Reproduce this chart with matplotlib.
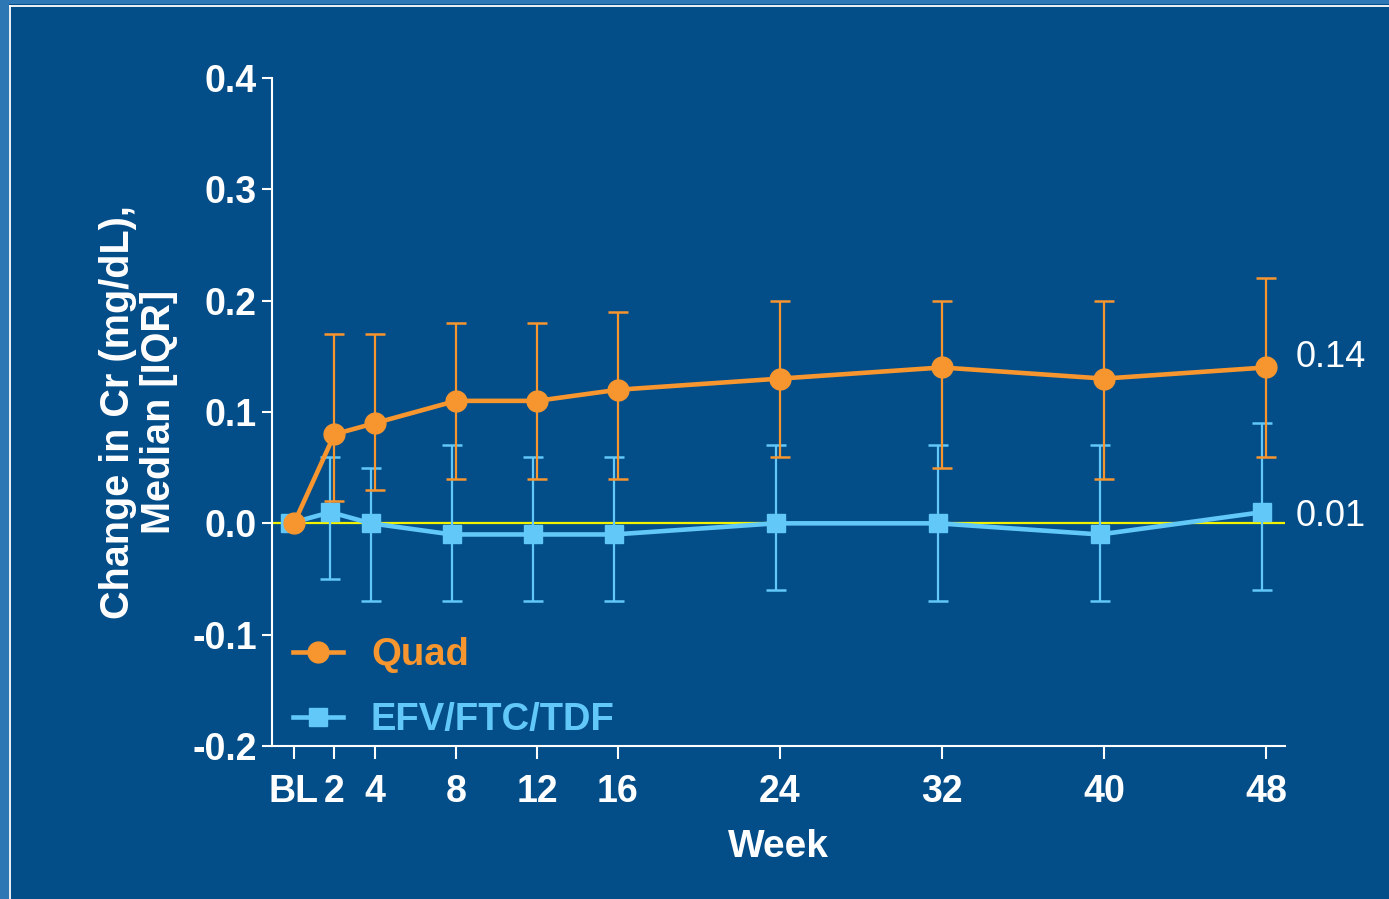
import matplotlib
matplotlib.use("Agg")
import matplotlib.pyplot as plt
from matplotlib.lines import Line2D
from matplotlib.patches import Rectangle
import numpy as np

# ---- data ----
weeks = [0, 2, 4, 8, 12, 16, 24, 32, 40, 48]
week_labels = ["BL", "2", "4", "8", "12", "16", "24", "32", "40", "48"]

quad_med = [0.00, 0.08, 0.09, 0.11, 0.11, 0.12, 0.13, 0.14, 0.13, 0.14]
quad_q1  = [0.00, 0.02, 0.03, 0.04, 0.04, 0.04, 0.06, 0.05, 0.04, 0.06]
quad_q3  = [0.00, 0.17, 0.17, 0.18, 0.18, 0.19, 0.20, 0.20, 0.20, 0.22]

efv_med = [0.00, 0.01, 0.00, -0.01, -0.01, -0.01, 0.00, 0.00, -0.01, 0.01]
efv_q1  = [0.00, -0.05, -0.07, -0.07, -0.07, -0.07, -0.06, -0.07, -0.07, -0.06]
efv_q3  = [0.00, 0.06, 0.05, 0.07, 0.06, 0.06, 0.07, 0.07, 0.07, 0.09]

yticks = [-0.2, -0.1, 0.0, 0.1, 0.2, 0.3, 0.4]
ytick_labels = ["-0.2", "-0.1", "0.0", "0.1", "0.2", "0.3", "0.4"]

series_names = ["Quad", "EFV/FTC/TDF"]
end_labels = ["0.14", "0.01"]

# ---- style ----
BG = "#034D89"
FRAME = "#2E77B5"
ORANGE = "#F7962F"
LBLUE = "#62C8F8"
YELLOW = "#F2F200"
WHITE = "white"
FONT = "Liberation Sans"
dodge = -0.2

W, H = 1389, 899
fig = plt.figure(figsize=(W / 100, H / 100), dpi=100, facecolor=BG)

# decorative frame (light-blue band + thin white line on top and left)
fig.patches.append(Rectangle((0, 1 - 4 / H), 1, 4 / H, transform=fig.transFigure,
                             facecolor=FRAME, edgecolor="none", zorder=0))
fig.patches.append(Rectangle((0, 0), 9 / W, 1, transform=fig.transFigure,
                             facecolor=FRAME, edgecolor="none", zorder=0))
fig.add_artist(Line2D([10 / W, 1], [1 - 5.5 / H, 1 - 5.5 / H], transform=fig.transFigure,
                      color=WHITE, lw=1.3))
fig.add_artist(Line2D([10 / W, 10 / W], [0, 1 - 5.5 / H], transform=fig.transFigure,
                      color=WHITE, lw=1.3))

left, right, top, bottom = 272, 1285, 78, 746
ax = fig.add_axes([left / W, 1 - bottom / H, (right - left) / W, (bottom - top) / H])
ax.set_facecolor(BG)

ax.axhline(0, color=YELLOW, lw=1.6, zorder=1)

x = np.array(weeks, dtype=float)
# EFV series
em = np.array(efv_med); el = em - np.array(efv_q1); eu = np.array(efv_q3) - em
mask = x > 0
ax.errorbar(x[mask] + dodge, em[mask], yerr=[el[mask], eu[mask]], fmt="none",
            ecolor=LBLUE, elinewidth=1.6, capsize=7, capthick=1.8, zorder=2)
ax.plot(x + dodge, em, color=LBLUE, lw=3.3, marker="s", ms=13.5, zorder=3)

# Quad series
qm = np.array(quad_med); ql = qm - np.array(quad_q1); qu = np.array(quad_q3) - qm
ax.errorbar(x[mask], qm[mask], yerr=[ql[mask], qu[mask]], fmt="none",
            ecolor=ORANGE, elinewidth=1.6, capsize=7, capthick=1.8, zorder=4)
ax.plot(x, qm, color=ORANGE, lw=3.3, marker="o", ms=15, zorder=5)

ax.set_xlim(-1.086, 48.94)
ax.set_ylim(-0.2, 0.4)
ax.set_xticks(weeks)
ax.set_xticklabels(week_labels, fontfamily=FONT, fontweight="bold", fontsize=27, color=WHITE)
ax.set_yticks(yticks)
ax.set_yticklabels(ytick_labels, fontfamily=FONT, fontweight="bold", fontsize=27, color=WHITE)
ax.tick_params(axis="y", direction="out", length=7, width=1.5, color=WHITE, pad=4)
ax.tick_params(axis="x", direction="out", length=9.5, width=1.5, color=WHITE, pad=11)

for s in ["top", "right"]:
    ax.spines[s].set_visible(False)
for s in ["left", "bottom"]:
    ax.spines[s].set_color(WHITE)
    ax.spines[s].set_linewidth(1.5)

ax.set_xlabel("Week", fontfamily=FONT, fontweight="bold", fontsize=28, color=WHITE, labelpad=13)
ax.set_ylabel("Change in Cr (mg/dL),\nMedian [IQR]", fontfamily=FONT, fontweight="bold",
              fontsize=28.5, color=WHITE, labelpad=10, linespacing=1.1)

# end labels
ax.annotate(end_labels[0], xy=(weeks[-1], quad_med[-1]), xytext=(21, 7),
            textcoords="offset points", va="center", ha="left", color=WHITE,
            fontfamily=FONT, fontsize=26, annotation_clip=False)
ax.annotate(end_labels[1], xy=(weeks[-1], efv_med[-1]), xytext=(21, -3),
            textcoords="offset points", va="center", ha="left", color=WHITE,
            fontfamily=FONT, fontsize=26, annotation_clip=False)

handles = [Line2D([], [], color=ORANGE, lw=3.3, marker="o", ms=15),
           Line2D([], [], color=LBLUE, lw=3.3, marker="s", ms=13.5)]
leg = ax.legend(handles, series_names, loc="upper left", bbox_to_anchor=(0.0207, 0.163),
                frameon=False, borderpad=0, borderaxespad=0, handlelength=1.3,
                handletextpad=0.74, labelspacing=0.76,
                prop={"family": FONT, "weight": "bold", "size": 27.5})
for t, c in zip(leg.get_texts(), [ORANGE, LBLUE]):
    t.set_color(c)

fig.savefig("out.png", dpi=100, facecolor=BG)
